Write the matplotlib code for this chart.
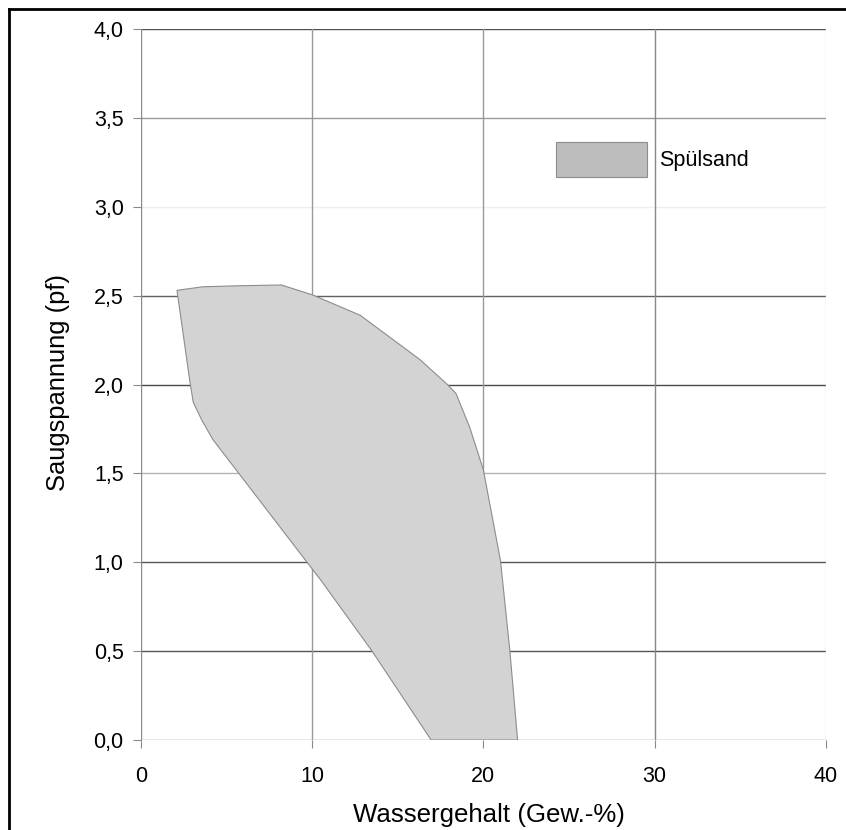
import matplotlib.pyplot as plt
from matplotlib.patches import Polygon, Patch
from matplotlib.lines import Line2D

plt.rcParams['font.family'] = ['Liberation Sans', 'DejaVu Sans']

# outline of the Spülsand band (Wassergehalt in Gew.-%, Saugspannung in pf)
wassergehalt = [2.1, 3.6, 5.8, 8.2, 10.0, 12.8, 16.3, 17.9, 18.4, 19.2, 20.0, 21.0, 21.55, 22.0,
                16.95, 13.5, 10.5, 9.7, 4.2, 3.55, 3.05, 2.85]
saugspannung = [2.53, 2.55, 2.556, 2.56, 2.505, 2.39, 2.14, 2.0, 1.95, 1.76, 1.52, 1.01, 0.5, 0.0,
                0.0, 0.5, 0.9, 1.0, 1.69, 1.8, 1.9, 2.02]

xticks = [0, 10, 20, 30, 40]
yticks = [0.0, 0.5, 1.0, 1.5, 2.0, 2.5, 3.0, 3.5, 4.0]
legend_label = 'Spülsand'

fig = plt.figure(figsize=(8.46, 8.30), dpi=100)
ax = fig.add_axes([0.1667, 0.1084, 0.8093, 0.8566])
ax.set_xlim(0, 40)
ax.set_ylim(0, 4)

# grid lines (shades as seen in the original)
hcolors = ['#8a8a8a', '#555555', '#555555', '#b4b4b4', '#4a4a4a', '#606060', '#eeeeee', '#9a9a9a', '#505050']
for y, c in zip(yticks, hcolors):
    ax.axhline(y, color=c, lw=1.0, zorder=1)
vcolors = ['#8a8a8a', '#999999', '#999999', '#888888', '#dddddd']
for x, c in zip(xticks, vcolors):
    ax.axvline(x, color=c, lw=1.0, zorder=1)

poly = Polygon(list(zip(wassergehalt, saugspannung)), closed=True,
               facecolor='#d3d3d3', edgecolor='#8c8c8c', lw=0.8, zorder=2)
ax.add_patch(poly)

for s in ax.spines.values():
    s.set_visible(False)

ax.set_xticks(xticks)
ax.set_yticks(yticks)
ax.set_xticklabels([str(v) for v in xticks])
ax.set_yticklabels([f'{v:.1f}'.replace('.', ',') for v in yticks])
ax.tick_params(axis='both', direction='out', length=6, width=0.8, color='#888888', labelsize=15.5)
ax.tick_params(axis='y', pad=6.5)
ax.tick_params(axis='x', pad=13)

ax.set_xlabel('Wassergehalt (Gew.-%)', fontsize=18.6, va='center')
ax.set_ylabel('Saugspannung (pf)', fontsize=18.4, va='center')
ax.xaxis.set_label_coords(0.508, -0.106)
ax.yaxis.set_label_coords(-0.121, 0.503)

handle = Patch(facecolor='#bdbdbd', edgecolor='#8c8c8c', lw=0.8)
ax.legend([handle], [legend_label], loc='center left', bbox_to_anchor=(0.5935, 0.817),
          borderaxespad=0, frameon=False, fontsize=15.5, handlelength=4.23, handleheight=2.14,
          handletextpad=0.56)

# frame of the original figure (left and top edge)
fig.add_artist(Line2D([0.0112, 0.0112], [0, 0.989], transform=fig.transFigure, color='black', lw=2))
fig.add_artist(Line2D([0.0112, 1.0], [0.989, 0.989], transform=fig.transFigure, color='black', lw=2))

fig.savefig('out.png', dpi=100)
